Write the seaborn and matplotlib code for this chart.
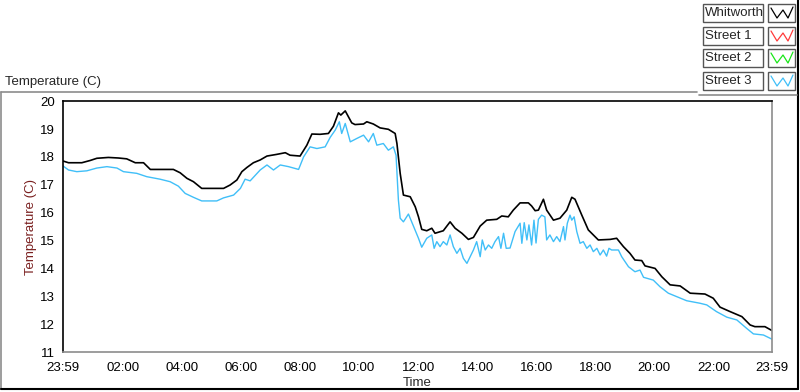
import numpy as np
import pandas as pd
import seaborn as sns
import matplotlib.pyplot as plt
from matplotlib.patches import Rectangle
from matplotlib.lines import Line2D

# -------------------------------
# Data (hours after 23:59, temperature in C)
# -------------------------------
whit_hours = [0, 0.18, 0.63, 0.91, 1.14, 1.53, 1.87, 2.15, 2.44, 2.72, 2.95, 3.73, 3.96,
              4.19, 4.41, 4.69, 5.43, 5.65, 5.88, 6.05, 6.22, 6.44, 6.67, 6.9, 7.23, 7.52,
              7.68, 8.02, 8.25, 8.42, 8.7, 8.98, 9.15, 9.32, 9.4, 9.55, 9.77, 9.88, 10.17,
              10.28, 10.5, 10.73, 11.01, 11.24, 11.3, 11.41, 11.52, 11.75, 11.92, 12.03,
              12.14, 12.31, 12.48, 12.59, 12.87, 13.1, 13.27, 13.5, 13.72, 13.89, 14.12,
              14.34, 14.68, 14.85, 15.07, 15.24, 15.47, 15.75, 15.86, 15.98, 16.09, 16.26,
              16.37, 16.6, 16.82, 17.05, 17.22, 17.33, 17.56, 17.78, 18.12, 18.52, 18.74,
              18.97, 19.19, 19.36, 19.59, 19.7, 20.04, 20.27, 20.55, 20.89, 21.23, 21.73,
              22.01, 22.24, 22.58, 22.98, 23.26, 23.42, 23.76, 24.0]
whit_temp = [17.85, 17.79, 17.79, 17.87, 17.95, 17.98, 17.96, 17.93, 17.79, 17.79, 17.55,
             17.55, 17.43, 17.23, 17.11, 16.87, 16.87, 16.99, 17.17, 17.47, 17.62, 17.79,
             17.89, 18.03, 18.09, 18.15, 18.06, 18.03, 18.42, 18.82, 18.81, 18.84, 19.10,
             19.58, 19.50, 19.65, 19.22, 19.16, 19.18, 19.26, 19.18, 19.04, 18.99, 18.84,
             18.48, 17.41, 16.63, 16.57, 16.21, 15.85, 15.40, 15.35, 15.44, 15.26, 15.35,
             15.67, 15.44, 15.26, 15.04, 15.11, 15.52, 15.73, 15.76, 15.88, 15.85, 16.09,
             16.35, 16.35, 16.24, 16.07, 16.09, 16.48, 16.09, 15.73, 15.80, 16.09, 16.55,
             16.48, 15.91, 15.38, 15.02, 15.04, 15.08, 14.78, 14.54, 14.30, 14.28, 14.09,
             14.0, 13.70, 13.41, 13.37, 13.11, 13.08, 12.93, 12.61, 12.45, 12.27, 11.97,
             11.91, 11.91, 11.77]

st3_hours = [0, 0.18, 0.46, 0.8, 1.14, 1.48, 1.82, 2.04, 2.49, 2.83, 3.28, 3.62, 3.90,
             4.13, 4.41, 4.69, 5.2, 5.43, 5.77, 6.0, 6.16, 6.33, 6.67, 6.9, 7.12, 7.35,
             7.63, 7.97, 8.14, 8.36, 8.59, 8.87, 9.04, 9.21, 9.35, 9.43, 9.55, 9.72, 9.94,
             10.17, 10.34, 10.5, 10.62, 10.84, 11.01, 11.18, 11.27, 11.35, 11.41, 11.52,
             11.69, 11.86, 12.03, 12.14, 12.31,
             12.48, 12.56, 12.65, 12.76, 12.87, 12.99, 13.1, 13.21, 13.33, 13.44, 13.55,
             13.67, 13.78, 13.89, 14.0, 14.12, 14.19, 14.29, 14.40, 14.51, 14.62, 14.74,
             14.82, 14.91, 15.0, 15.13, 15.30, 15.47, 15.53, 15.61, 15.70, 15.77, 15.86,
             15.94, 16.01, 16.09, 16.2, 16.31, 16.37, 16.48, 16.6, 16.71, 16.82, 16.94,
             16.99, 17.07, 17.16, 17.22, 17.30, 17.39, 17.50, 17.61, 17.73, 17.84, 17.95,
             18.07, 18.18, 18.29, 18.40, 18.48,
             18.57, 18.8, 18.91, 19.14, 19.36, 19.53, 19.65, 19.98, 20.21, 20.49, 20.77,
             21.11, 21.56, 21.79, 22.12, 22.47, 22.81, 23.14, 23.37, 23.71, 24.0]
st3_temp = [17.67, 17.53, 17.47, 17.50, 17.60, 17.65, 17.60, 17.47, 17.41, 17.29, 17.20,
            17.11, 16.95, 16.69, 16.55, 16.42, 16.42, 16.53, 16.63, 16.87, 17.20, 17.14,
            17.53, 17.71, 17.53, 17.71, 17.65, 17.55, 18.0, 18.36, 18.30, 18.36, 18.70,
            18.96, 19.26, 18.84, 19.20, 18.54, 18.66, 18.78, 18.54, 18.84, 18.42, 18.48,
            18.24, 18.36, 18.06, 16.45, 15.80, 15.67, 15.95, 15.52, 15.08, 14.76, 15.08,
            15.20, 14.72, 14.96, 14.78, 14.96, 14.84, 15.20, 14.78, 14.54, 14.72, 14.36,
            14.18, 14.42, 14.66, 14.96, 14.42, 15.02, 14.66, 14.84, 14.72, 14.96, 15.14,
            14.72, 15.26, 14.72, 14.73, 15.32, 15.62, 14.90, 15.64, 15.02, 15.56, 14.84,
            15.73, 14.91, 15.76, 15.91, 15.85, 15.02, 15.20, 14.96, 15.14, 14.96, 15.50,
            15.02, 15.62, 15.91, 15.73, 15.85, 15.32, 14.90, 14.96, 14.72, 14.84, 14.60,
            14.72, 14.48, 14.66, 14.44, 14.72,
            14.66, 14.66, 14.42, 14.06, 13.88, 13.94, 13.68, 13.58, 13.34, 13.11, 12.99,
            12.84, 12.75, 12.69, 12.45, 12.25, 12.15, 11.85, 11.65, 11.61, 11.46]

legend_names = ["Whitworth", "Street 1", "Street 2", "Street 3"]
legend_colors = ["#000000", "#ff3a3a", "#19e619", "#40bff8"]

tick_labels = ["23:59", "02:00", "04:00", "06:00", "08:00", "10:00", "12:00",
               "14:00", "16:00", "18:00", "20:00", "22:00", "23:59"]
y_ticks = list(range(11, 21))

# -------------------------------
# Figure setup
# -------------------------------
sns.set_style("white")
plt.rcParams['font.family'] = ['Liberation Sans', 'DejaVu Sans']
FS = 9.5

fig = plt.figure(figsize=(8, 3.92), dpi=100)
ax = fig.add_axes([0.079, 0.102, 0.886, 0.640])

df_w = pd.DataFrame({"t": whit_hours, "temp": whit_temp})
df_s = pd.DataFrame({"t": st3_hours, "temp": st3_temp})
sns.lineplot(data=df_s, x="t", y="temp", color=legend_colors[3], lw=1.0, ax=ax,
             estimator=None)
sns.lineplot(data=df_w, x="t", y="temp", color=legend_colors[0], lw=1.2, ax=ax,
             estimator=None)

ax.set_xlim(0, 24)
ax.set_ylim(11, 20)

# major ticks every 2h (first one is 23:59 -> 02:00), 6 minor steps between
majors = [0] + [2 * k + 1 / 60 for k in range(1, 12)] + [24]
minors = []
for a, b in zip(majors[:-1], majors[1:]):
    minors += list(np.linspace(a, b, 7)[1:-1])
ax.set_xticks(majors)
ax.set_xticklabels(tick_labels)
ax.set_xticks(minors, minor=True)
ax.set_yticks(y_ticks)
ax.tick_params(axis="both", which="major", direction="out", length=4, width=1,
               colors="black", labelsize=FS, pad=2)
ax.tick_params(axis="x", which="minor", direction="out", length=2.5, width=1,
               colors="black")
ax.tick_params(axis="x", which="major", pad=3)

for side in ["left", "top"]:
    ax.spines[side].set_color("black")
for side in ["right", "bottom"]:
    ax.spines[side].set_color("#8c8c8c")
for s in ax.spines.values():
    s.set_linewidth(1.2)

ax.set_xlabel("Time", fontsize=FS, labelpad=2)
ax.set_ylabel("Temperature (C)", fontsize=FS, color="#7a2020", labelpad=2)

# -------------------------------
# Panel frame + chart title
# -------------------------------
W, H = 800, 392
def fx(px):
    return px / W
def fy(py):
    return 1 - py / H

fig.add_artist(Line2D([fx(1), fx(1)], [fy(92), fy(389)], color="#8c8c8c", lw=1.2))
fig.add_artist(Line2D([fx(1), fx(697)], [fy(92), fy(92)], color="#8c8c8c", lw=1.2))
fig.add_artist(Line2D([fx(1), fx(798)], [fy(389), fy(389)], color="black", lw=1.5))
fig.add_artist(Line2D([fx(798), fx(798)], [fy(0), fy(389)], color="black", lw=1.5))
fig.add_artist(Line2D([fx(699), fx(797)], [fy(95), fy(95)], color="#8c8c8c", lw=1.2))
fig.text(fx(5), fy(82), "Temperature (C)", fontsize=FS, va="center", ha="left")

# -------------------------------
# Legend (LabVIEW style boxes)
# -------------------------------
row_tops = [4, 27, 49, 72]
for name, col, top in zip(legend_names, legend_colors, row_tops):
    fig.add_artist(Rectangle((fx(703), fy(top + 18)), fx(60), 18 / H,
                             facecolor="white", edgecolor="#555555", lw=1))
    fig.text(fx(705), fy(top + 9), name, fontsize=FS, va="center", ha="left")
    fig.add_artist(Rectangle((fx(768), fy(top + 18)), fx(27), 18 / H,
                             facecolor="white", edgecolor="#555555", lw=1))
    zx = [771, 777, 783, 788, 793]
    zy = [top + 4, top + 14, top + 6, top + 14, top + 3]
    fig.add_artist(Line2D([fx(v) for v in zx], [fy(v) for v in zy], color=col, lw=0.9))

plt.savefig("out.png", dpi=100)
plt.close()
